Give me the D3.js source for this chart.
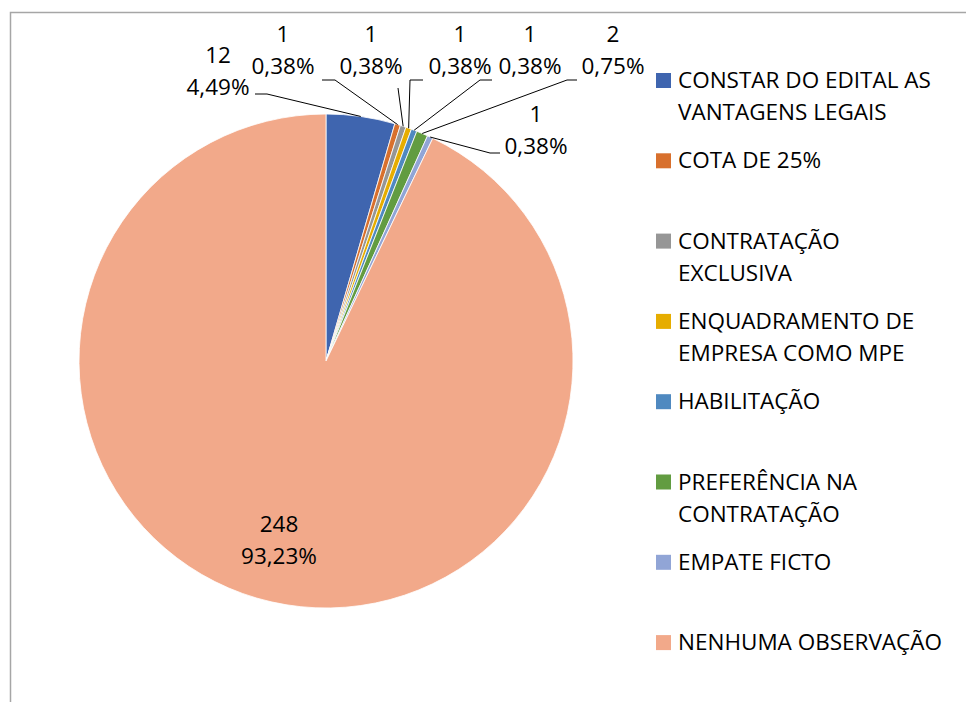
<!DOCTYPE html>
<html>
<head>
<meta charset="utf-8">
<script src="https://cdn.jsdelivr.net/npm/d3@7"></script>
<style>
  body { margin: 0; background: #fff; }
  text { font-family: "Open Sans", "Noto Sans", sans-serif; fill: #000; }
</style>
</head>
<body>
<div id="chart"></div>
<script>
// data
var categories = ['CONSTAR DO EDITAL AS VANTAGENS LEGAIS', 'COTA DE 25%', 'CONTRATAÇÃO EXCLUSIVA',
  'ENQUADRAMENTO DE EMPRESA COMO MPE', 'HABILITAÇÃO', 'PREFERÊNCIA NA CONTRATAÇÃO',
  'EMPATE FICTO', 'NENHUMA OBSERVAÇÃO'];
var counts = [12, 1, 1, 1, 1, 2, 1, 248];
var percentLabels = ['4,49%', '0,38%', '0,38%', '0,38%', '0,38%', '0,75%', '0,38%', '93,23%'];
var legendLines = [['CONSTAR DO EDITAL AS', 'VANTAGENS LEGAIS'], ['COTA DE 25%'], ['CONTRATAÇÃO', 'EXCLUSIVA'],
  ['ENQUADRAMENTO DE', 'EMPRESA COMO MPE'], ['HABILITAÇÃO'], ['PREFERÊNCIA NA', 'CONTRATAÇÃO'],
  ['EMPATE FICTO'], ['NENHUMA OBSERVAÇÃO']];
var colors = ['#3f65af', '#d8702d', '#969696', '#e6ad00', '#4f89c0', '#629c41', '#91a5d6', '#f2a98a'];

// label layout (text centre x, first baseline, elbow of the leader line)
var labelLayout = [
  {x: 218, y: 63, a: [255, 94], b: [267, 94]},
  {x: 283, y: 42, a: [322, 80], b: [335, 80]},
  {x: 371, y: 42, a: [398, 88], b: [398, 88]},
  {x: 460, y: 42, a: [423, 80], b: [410, 80]},
  {x: 530, y: 42, a: [492, 80], b: [480, 80]},
  {x: 613, y: 42, a: [577, 80], b: [567, 80]},
  {x: 536, y: 122, a: [500, 153], b: [490, 153]},
  {x: 279, y: 532, a: null, b: null}
];

var width = 966, height = 702;
var cx = 326, cy = 361, r = 247;
var fs = 22.5;

var svg = d3.select('#chart').append('svg')
  .attr('width', width)
  .attr('height', height);

// chart frame
svg.append('rect')
  .attr('x', 10.5).attr('y', 12.5)
  .attr('width', 1000).attr('height', 1000)
  .attr('fill', 'none')
  .attr('stroke', '#a6a6a6')
  .attr('stroke-width', 1.5);

var pie = d3.pie().sort(null).value(function(d) { return d; });
var arcs = pie(counts);
var arc = d3.arc().innerRadius(0).outerRadius(r);
var edge = d3.arc().innerRadius(r).outerRadius(r);

var g = svg.append('g').attr('transform', 'translate(' + cx + ',' + cy + ')');

g.selectAll('path.slice')
  .data(arcs)
  .enter().append('path')
  .attr('class', 'slice')
  .attr('d', arc)
  .attr('fill', function(d, i) { return colors[i]; })
  .attr('stroke', '#fff')
  .attr('stroke-width', 0.8);

// leader lines
arcs.forEach(function(d, i) {
  var L = labelLayout[i];
  if (!L.a) return;
  var p = edge.centroid(d);
  var pts = [L.a, L.b, [p[0] + cx, p[1] + cy]];
  svg.append('path')
    .attr('d', d3.line()(pts))
    .attr('fill', 'none')
    .attr('stroke', '#000')
    .attr('stroke-width', 1);
});

// data labels
arcs.forEach(function(d, i) {
  var L = labelLayout[i];
  var t = svg.append('text')
    .attr('text-anchor', 'middle')
    .style('font-size', fs + 'px');
  t.append('tspan').attr('x', L.x).attr('y', L.y).text(counts[i]);
  t.append('tspan').attr('x', L.x).attr('y', L.y + 32).text(percentLabels[i]);
});

// legend
var legend = svg.selectAll('g.legend')
  .data(categories)
  .enter().append('g')
  .attr('class', 'legend')
  .attr('transform', function(d, i) { return 'translate(656,' + (73 + i * 80.3) + ')'; });

legend.append('rect')
  .attr('width', 15).attr('height', 15)
  .attr('fill', function(d, i) { return colors[i]; });

legend.append('text')
  .style('font-size', fs + 'px')
  .selectAll('tspan')
  .data(function(d, i) { return legendLines[i]; })
  .enter().append('tspan')
  .attr('x', 22)
  .attr('y', function(d, j) { return 15 + j * 32; })
  .text(function(d) { return d; });
</script>
</body>
</html>
